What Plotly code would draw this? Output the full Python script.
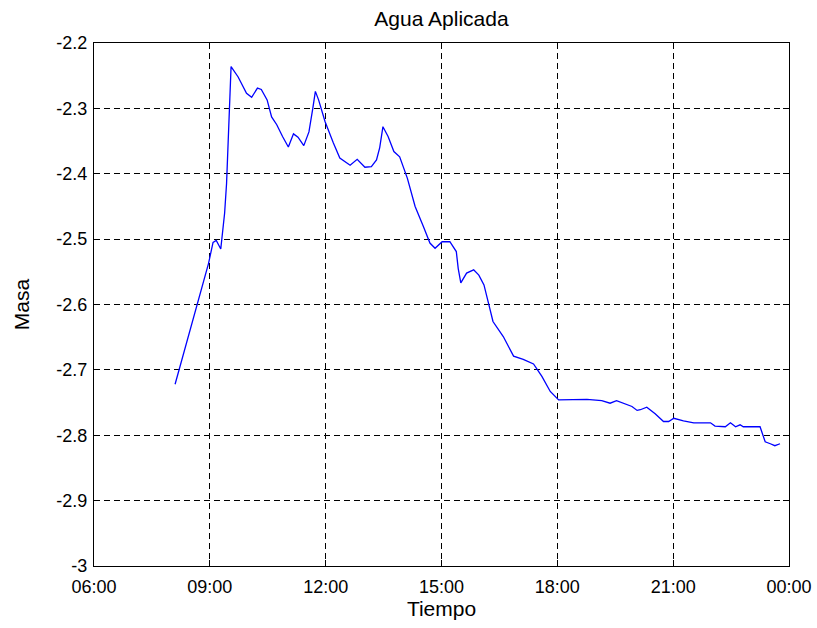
import pandas as pd
import plotly.graph_objects as go

# Measured mass over the day (clock time HH:MM, mass)
times = [
    "08:06", "08:58", "09:05", "09:10", "09:17", "09:20", "09:23", "09:26",
    "09:29", "09:31", "09:33", "09:44", "09:57", "10:05", "10:14", "10:20",
    "10:29", "10:36", "10:44", "10:53", "11:02", "11:10", "11:17", "11:26",
    "11:34", "11:40", "11:44", "11:49", "11:59", "12:12", "12:22", "12:38",
    "12:49", "13:01", "13:11", "13:19", "13:24", "13:29", "13:37", "13:46",
    "13:55", "14:07", "14:19", "14:32", "14:42", "14:50", "15:01", "15:13",
    "15:23", "15:26", "15:30", "15:39", "15:50", "15:58", "16:06", "16:13",
    "16:20", "16:36", "16:52", "17:07", "17:23", "17:36", "17:49", "18:02",
    "18:25", "18:46", "19:09", "19:22", "19:32", "19:46", "19:56", "20:04",
    "20:09", "20:19", "20:32", "20:45", "20:53", "21:01", "21:16", "21:32",
    "21:58", "22:05", "22:21", "22:29", "22:37", "22:44", "22:49", "23:15",
    "23:19", "23:23", "23:31", "23:38", "23:46",
]
masa = [
    -2.722, -2.537, -2.505, -2.502, -2.515, -2.486, -2.460, -2.415,
    -2.343, -2.272, -2.236, -2.252, -2.277, -2.283, -2.269, -2.271,
    -2.287, -2.313, -2.325, -2.343, -2.359, -2.339, -2.344, -2.357,
    -2.336, -2.300, -2.274, -2.287, -2.320, -2.353, -2.376, -2.387,
    -2.378, -2.390, -2.389, -2.379, -2.360, -2.328, -2.343, -2.366,
    -2.374, -2.407, -2.450, -2.481, -2.506, -2.514, -2.504, -2.504,
    -2.519, -2.545, -2.567, -2.552, -2.547, -2.555, -2.570, -2.598,
    -2.626, -2.649, -2.679, -2.684, -2.691, -2.710, -2.733, -2.746,
    -2.746, -2.745, -2.747, -2.751, -2.747, -2.752, -2.756, -2.762,
    -2.761, -2.757, -2.767, -2.779, -2.779, -2.774, -2.778, -2.781,
    -2.781, -2.786, -2.787, -2.781, -2.787, -2.784, -2.787, -2.787,
    -2.799, -2.810, -2.813, -2.816, -2.813,
]

y_ticks = [-2.2, -2.3, -2.4, -2.5, -2.6, -2.7, -2.8, -2.9, -3.0]
y_tick_text = ["-2.2", "-2.3", "-2.4", "-2.5", "-2.6", "-2.7", "-2.8", "-2.9", "-3"]

day = "2000-01-01 "
x = pd.to_datetime([day + t for t in times])

font = "Liberation Sans, Arial, sans-serif"

fig = go.Figure(
    go.Scatter(x=x, y=masa, mode="lines",
               line=dict(color="#0000ff", width=1.3), showlegend=False)
)

axis_common = dict(
    showline=True, linecolor="black", linewidth=1.3, mirror="ticks",
    ticks="inside", ticklen=6, tickcolor="black",
    showgrid=True, gridcolor="black", griddash="6px,4px", gridwidth=1.2,
    zeroline=False, automargin=False,
    tickfont=dict(family=font, size=18, color="black"),
)

fig.update_xaxes(
    type="date", range=["2000-01-01 06:00", "2000-01-02 00:00"],
    dtick=3 * 3600 * 1000, tick0="2000-01-01 06:00", tickformat="%H:%M",
    ticklabelstandoff=4,
    title=dict(text="Tiempo", font=dict(family=font, size=21, color="black"),
               standoff=2),
    **axis_common,
)
fig.update_yaxes(
    range=[-3.0, -2.2], tickvals=y_ticks, ticktext=y_tick_text,
    ticklabelstandoff=2,
    title=dict(text="Masa", font=dict(family=font, size=21, color="black"),
               standoff=20),
    **axis_common,
)

fig.update_layout(
    width=817, height=628,
    margin=dict(l=94, r=28, t=43, b=62, autoexpand=False),
    paper_bgcolor="white", plot_bgcolor="white",
    title=dict(text="Agua Aplicada", x=0.5, xanchor="center", xref="paper",
               y=1 - 19 / 628, yanchor="middle",
               font=dict(family=font, size=21, color="black")),
)

fig.write_html("out.html")
